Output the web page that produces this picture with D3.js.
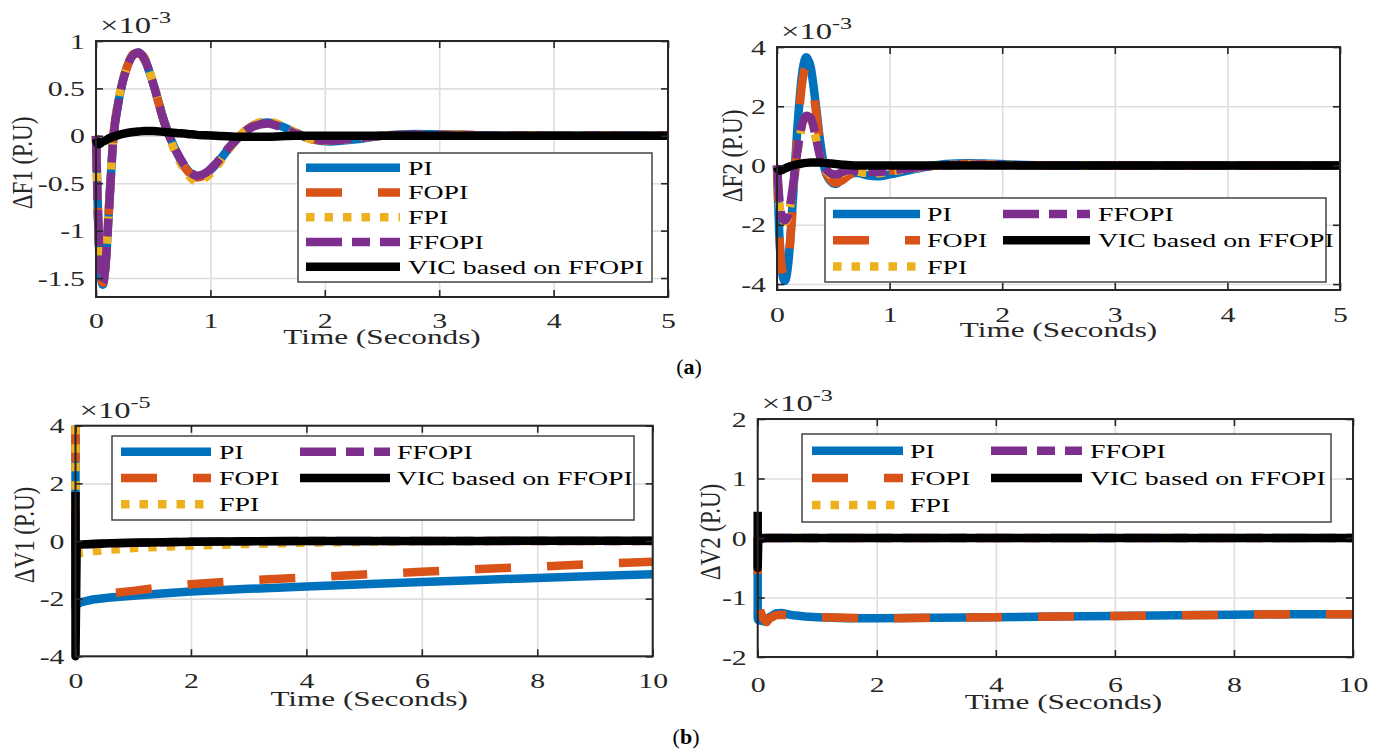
<!DOCTYPE html>
<html>
<head>
<meta charset="utf-8">
<script src="https://cdn.jsdelivr.net/npm/d3@7/dist/d3.min.js"></script>
<style>
  body { margin: 0; background: #fff; }
  text { font-family: "Liberation Serif", "Times New Roman", serif; }
</style>
</head>
<body>
<svg id="chart" width="1383" height="754"></svg>
<script>
// series shared by the four panels
var seriesNames = ["PI", "FOPI", "FPI", "FFOPI", "VIC based on FFOPI"];
var seriesColors = ["#0072BD", "#D95319", "#EDB120", "#7E2F8E", "#000000"];
var seriesDash = [null, "36,36", "8.5,10", "36,10,18,10", null];

// (a) left : dF1, x1e-3
var tF1 = [0, 0.02, 0.04, 0.06, 0.08, 0.11, 0.15, 0.2, 0.27, 0.33, 0.37, 0.42, 0.5, 0.6, 0.7, 0.8, 0.88, 0.96, 1.05, 1.15, 1.25, 1.38, 1.5, 1.62, 1.75, 1.9, 2.05, 2.25, 2.5, 2.8, 3.2, 3.7, 4.3, 5];
var f1PI    = [0, -0.95, -1.45, -1.57, -1.42, -0.85, -0.05, 0.38, 0.72, 0.86, 0.88, 0.82, 0.55, 0.14, -0.16, -0.36, -0.43, -0.40, -0.30, -0.15, -0.01, 0.11, 0.14, 0.10, 0.03, -0.04, -0.06, -0.04, 0, 0.02, 0.01, 0, 0, 0];
var f1FOPI  = [0, -0.93, -1.43, -1.55, -1.40, -0.83, -0.04, 0.39, 0.72, 0.86, 0.87, 0.81, 0.54, 0.13, -0.17, -0.37, -0.44, -0.41, -0.31, -0.15, -0.01, 0.11, 0.14, 0.10, 0.03, -0.04, -0.05, -0.03, 0, 0.01, 0.01, 0, 0, 0];
var f1FPI   = [0, -0.92, -1.42, -1.54, -1.38, -0.80, -0.02, 0.40, 0.73, 0.87, 0.88, 0.83, 0.56, 0.13, -0.19, -0.40, -0.48, -0.44, -0.33, -0.16, -0.01, 0.12, 0.15, 0.11, 0.03, -0.04, -0.05, -0.03, 0, 0.01, 0, 0, 0, 0];
var f1FFOPI = [0, -0.94, -1.44, -1.55, -1.40, -0.84, -0.05, 0.38, 0.72, 0.86, 0.88, 0.82, 0.55, 0.13, -0.16, -0.35, -0.42, -0.39, -0.29, -0.14, -0.01, 0.10, 0.13, 0.09, 0.02, -0.03, -0.05, -0.03, 0, 0.01, 0, 0, 0, 0];
var f1VIC   = [-0.03, -0.09, -0.08, -0.06, -0.05, -0.03, -0.01, 0.01, 0.03, 0.04, 0.045, 0.05, 0.05, 0.04, 0.03, 0.02, 0.01, 0.005, 0, -0.005, -0.01, -0.01, -0.01, -0.005, 0, 0, 0, 0, 0, 0, 0, 0, 0, 0];

// (a) right : dF2, x1e-3
var tF2 = [0, 0.02, 0.045, 0.07, 0.1, 0.14, 0.18, 0.22, 0.26, 0.3, 0.34, 0.38, 0.42, 0.47, 0.52, 0.58, 0.65, 0.72, 0.8, 0.9, 1.0, 1.15, 1.3, 1.5, 1.7, 1.9, 2.2, 2.6, 3.2, 4, 5];
var f2PI    = [0, -2.3, -3.6, -3.9, -3.3, -1.2, 1.2, 3.0, 3.65, 3.3, 2.2, 0.9, -0.05, -0.5, -0.62, -0.45, -0.25, -0.25, -0.33, -0.36, -0.3, -0.18, -0.06, 0.05, 0.08, 0.06, 0.02, 0, 0, 0, 0];
var f2FOPI  = [0, -2.2, -3.5, -3.8, -3.3, -1.4, 0.9, 2.7, 3.3, 3.0, 2.0, 0.8, -0.05, -0.45, -0.58, -0.5, -0.3, -0.22, -0.22, -0.22, -0.18, -0.1, -0.03, 0.03, 0.05, 0.04, 0.01, 0, 0, 0, 0];
var f2FPI   = [0, -1.2, -1.8, -1.9, -1.7, -0.8, 0.4, 1.3, 1.6, 1.55, 1.0, 0.35, -0.05, -0.3, -0.38, -0.25, -0.15, -0.2, -0.25, -0.26, -0.2, -0.12, -0.05, 0.02, 0.04, 0.03, 0.01, 0, 0, 0, 0];
var f2FFOPI = [0, -1.1, -1.75, -1.85, -1.65, -0.75, 0.45, 1.35, 1.68, 1.6, 1.05, 0.35, -0.02, -0.25, -0.3, -0.22, -0.15, -0.17, -0.2, -0.22, -0.18, -0.1, -0.04, 0.01, 0.03, 0.02, 0.01, 0, 0, 0, 0];
var f2VIC   = [-0.05, -0.17, -0.15, -0.1, -0.05, 0, 0.04, 0.07, 0.09, 0.1, 0.1, 0.1, 0.09, 0.07, 0.05, 0.03, 0.01, 0, 0, 0, 0, 0, 0, 0, 0, 0, 0, 0, 0, 0, 0];

// (b) left : dV1, x1e-5  (two samples at t=0 give the start spike)
var tV1 = [0, 0, 0.02, 0.1, 0.3, 0.6, 1, 1.5, 2, 3, 4, 5, 6, 7, 8, 9, 10];
var v1PI    = [4, -2.3, -2.2, -2.12, -2.03, -1.96, -1.9, -1.82, -1.75, -1.66, -1.58, -1.5, -1.42, -1.35, -1.28, -1.21, -1.15];
var v1FOPI  = [4, -2.05, -2.0, -1.97, -1.9, -1.82, -1.73, -1.6, -1.5, -1.36, -1.27, -1.16, -1.07, -0.97, -0.89, -0.8, -0.72];
var v1FPI   = [4, -0.5, -0.45, -0.41, -0.36, -0.3, -0.24, -0.2, -0.16, -0.1, -0.06, -0.03, 0, 0, 0, 0, 0];
var v1FFOPI = [1.0, -0.2, -0.15, -0.12, -0.1, -0.08, -0.06, -0.04, -0.03, -0.01, 0, 0, 0, 0, 0, 0, 0];
var v1VIC   = [1.7, -4, -0.15, -0.12, -0.1, -0.08, -0.06, -0.04, -0.03, -0.01, 0, 0, 0, 0, 0.01, 0.01, 0.01];

// (b) right : dV2, x1e-3
var tV2 = [0, 0, 0.01, 0.05, 0.1, 0.15, 0.2, 0.3, 0.4, 0.6, 0.8, 1, 1.5, 2, 3, 4, 5, 6, 7, 8, 9, 10];
var v2PI    = [0, -1.35, -1.38, -1.39, -1.4, -1.41, -1.33, -1.27, -1.26, -1.3, -1.32, -1.33, -1.35, -1.35, -1.34, -1.33, -1.32, -1.31, -1.3, -1.29, -1.28, -1.28];
var v2FOPI  = [0, -1.0, -1.1, -1.25, -1.36, -1.41, -1.35, -1.3, -1.29, -1.31, -1.32, -1.33, -1.34, -1.35, -1.34, -1.33, -1.32, -1.31, -1.3, -1.29, -1.28, -1.28];
var v2FPI   = [0, -0.05, -0.03, -0.02, -0.01, 0, 0, 0, 0, 0, 0, 0, 0, 0, 0, 0, 0, 0, 0, 0, 0, 0];
var v2FFOPI = [0, -0.04, -0.03, -0.02, -0.01, 0, 0, 0, 0, 0, 0, 0, 0, 0, 0, 0, 0, 0, 0, 0, 0, 0];
var v2VIC   = [0.44, -0.5, 0, 0, 0, 0, 0, 0, 0, 0, 0, 0, 0, 0, 0, 0, 0, 0, 0, 0, 0, 0];

var xTicks5 = [0, 1, 2, 3, 4, 5];
var xTicks10 = [0, 2, 4, 6, 8, 10];
var yTicksF1 = [-1.5, -1, -0.5, 0, 0.5, 1];
var yTicksF2 = [-4, -2, 0, 2, 4];
var yTicksV1 = [-4, -2, 0, 2, 4];
var yTicksV2 = [-2, -1, 0, 1, 2];

var SX = 1.42;   // text in the figure is stretched sideways
var LINE_W = 8.5;

var svg = d3.select("#chart");

function stext(g, x, y, str, size, anchor) {
  return g.append("text")
    .attr("transform", "translate(" + x + "," + y + ") scale(" + SX + ",1)")
    .attr("text-anchor", anchor)
    .style("font-size", size + "px")
    .attr("fill", "#262626")
    .text(str);
}

function drawPanel(p) {
  var x = d3.scaleLinear().domain(p.xDomain).range([p.left, p.right]);
  var y = d3.scaleLinear().domain(p.yDomain).range([p.bottom, p.top]);
  var g = svg.append("g");
  var h = p.bottom - p.top, w = p.right - p.left;

  // grid
  var gx = g.append("g").attr("transform", "translate(0," + p.bottom + ")")
    .call(d3.axisBottom(x).tickValues(p.xTicks).tickSize(-h).tickFormat(""));
  var gy = g.append("g").attr("transform", "translate(" + p.left + ",0)")
    .call(d3.axisLeft(y).tickValues(p.yTicks).tickSize(-w).tickFormat(""));
  [gx, gy].forEach(function(a) {
    a.select(".domain").remove();
    a.selectAll("line").attr("stroke", "#dedede").attr("stroke-width", 1.6);
  });

  // curves
  p.series.forEach(function(vals, i) {
    var pts = p.t.map(function(t, k) { return [t, vals[k]]; });
    var line = d3.line().x(function(d) { return x(d[0]); }).y(function(d) { return y(d[1]); }).curve(p.curve);
    g.append("path").datum(pts)
      .attr("d", line)
      .attr("fill", "none")
      .attr("stroke", seriesColors[i])
      .attr("stroke-width", LINE_W)
      .attr("stroke-linejoin", "round")
      .attr("stroke-dasharray", seriesDash[i]);
  });

  // inward ticks on all four sides
  var tb = g.append("g").attr("transform", "translate(0," + p.bottom + ")")
    .call(d3.axisBottom(x).tickValues(p.xTicks).tickSizeInner(-7).tickSizeOuter(0).tickFormat(function(d) { return String(d); }));
  tb.selectAll("text").attr("y", p.xTickDy).attr("dy", null)
    .attr("transform", "scale(" + SX + ",1)").style("font-size", "21px").attr("fill", "#262626");
  var tt = g.append("g").attr("transform", "translate(0," + p.top + ")")
    .call(d3.axisTop(x).tickValues(p.xTicks).tickSizeInner(-7).tickSizeOuter(0).tickFormat(""));
  var tl = g.append("g").attr("transform", "translate(" + p.left + ",0)")
    .call(d3.axisLeft(y).tickValues(p.yTicks).tickSizeInner(-7).tickSizeOuter(0).tickFormat(function(d) { return String(d); }));
  tl.selectAll("text").attr("x", -11 / SX).attr("dy", null).attr("y", 7)
    .attr("transform", "scale(" + SX + ",1)").style("font-size", "21px").attr("fill", "#262626");
  var tr = g.append("g").attr("transform", "translate(" + p.right + ",0)")
    .call(d3.axisRight(y).tickValues(p.yTicks).tickSizeInner(-7).tickSizeOuter(0).tickFormat(""));
  [tb, tt, tl, tr].forEach(function(a) {
    a.attr("font-family", null).attr("font-size", null);
    a.select(".domain").remove();
    a.selectAll("line").attr("stroke", "#262626").attr("stroke-width", 1.6);
  });

  // box
  g.append("rect").attr("x", p.left).attr("y", p.top).attr("width", w).attr("height", h)
    .attr("fill", "none").attr("stroke", "#262626").attr("stroke-width", 2);

  // labels
  stext(g, (p.left + p.right) / 2 + p.xLabelDx, p.bottom + p.xLabelDy, "Time (Seconds)", 22, "middle");
  g.append("text")
    .attr("transform", "translate(" + (p.yLabelX + 7) + "," + p.yLabelY + ") scale(1.25,1) rotate(-90)")
    .attr("text-anchor", "middle").style("font-size", "23px").attr("fill", "#262626")
    .text(p.yLabel);
  var ex = stext(g, p.left + 4, p.top - 8, "\u00d710", 23, "start");
  ex.append("tspan").attr("dy", -10).style("font-size", "17px").text(p.exponent);

  // legend
  var L = p.legend;
  var lg = g.append("g");
  lg.append("rect").attr("x", L.x).attr("y", L.y).attr("width", L.w).attr("height", L.h)
    .attr("fill", "#fff").attr("stroke", "#444").attr("stroke-width", 1.5);
  seriesNames.forEach(function(name, i) {
    var c = L.pos[i][0], r = L.pos[i][1];
    var ry = L.y + L.row0 + r * L.step;
    var sx = L.x + L.cols[c].sx;
    lg.append("line").attr("x1", sx).attr("x2", sx + L.len).attr("y1", ry).attr("y2", ry)
      .attr("stroke", seriesColors[i]).attr("stroke-width", LINE_W)
      .attr("stroke-dasharray", seriesDash[i]);
    stext(lg, L.x + L.cols[c].tx, ry + 7, name, 19.6, "start").attr("fill", "#000");
  });
}

var oneCol = [[0, 0], [0, 1], [0, 2], [0, 3], [0, 4]];
var twoCol = [[0, 0], [0, 1], [0, 2], [1, 0], [1, 1]];

drawPanel({
  left: 96, right: 668, top: 41, bottom: 297,
  xDomain: [0, 5], yDomain: [-1.7, 1], xTicks: xTicks5, yTicks: yTicksF1,
  t: tF1, series: [f1PI, f1FOPI, f1FPI, f1FFOPI, f1VIC], curve: d3.curveMonotoneX,
  xTickDy: 31, xLabelDy: 47, xLabelDx: 0,
  yLabel: "\u0394F1 (P.U)", yLabelX: 25, yLabelY: 163, exponent: "-3",
  legend: { x: 298, y: 153, w: 354, h: 129, row0: 14.7, step: 24.75, len: 94,
            cols: [{ sx: 8, tx: 110 }], pos: oneCol }
});

drawPanel({
  left: 777, right: 1340, top: 47, bottom: 290,
  xDomain: [0, 5], yDomain: [-4.2, 4], xTicks: xTicks5, yTicks: yTicksF2,
  t: tF2, series: [f2PI, f2FOPI, f2FPI, f2FFOPI, f2VIC], curve: d3.curveMonotoneX,
  xTickDy: 32, xLabelDy: 47, xLabelDx: 0,
  yLabel: "\u0394F2 (P.U)", yLabelX: 735, yLabelY: 156, exponent: "-3",
  legend: { x: 825, y: 198, w: 501, h: 84, row0: 16, step: 26.3, len: 87,
            cols: [{ sx: 8, tx: 102 }, { sx: 178, tx: 273 }], pos: twoCol }
});

drawPanel({
  left: 75.5, right: 652.7, top: 425.7, bottom: 656.3,
  xDomain: [0, 10], yDomain: [-4, 4], xTicks: xTicks10, yTicks: yTicksV1,
  t: tV1, series: [v1PI, v1FOPI, v1FPI, v1FFOPI, v1VIC], curve: d3.curveLinear,
  xTickDy: 32, xLabelDy: 50, xLabelDx: 5,
  yLabel: "\u0394V1 (P.U)", yLabelX: 27, yLabelY: 535, exponent: "-5",
  legend: { x: 112, y: 436, w: 522, h: 84, row0: 15.7, step: 26.3, len: 90,
            cols: [{ sx: 9, tx: 107 }, { sx: 188, tx: 285 }], pos: twoCol }
});

drawPanel({
  left: 757.7, right: 1353, top: 419, bottom: 657,
  xDomain: [0, 10], yDomain: [-2, 2], xTicks: xTicks10, yTicks: yTicksV2,
  t: tV2, series: [v2PI, v2FOPI, v2FPI, v2FFOPI, v2VIC], curve: d3.curveLinear,
  xTickDy: 35, xLabelDy: 52, xLabelDx: 8,
  yLabel: "\u0394V2 (P.U)", yLabelX: 713, yLabelY: 532, exponent: "-3",
  legend: { x: 802, y: 434, w: 529, h: 88, row0: 16.7, step: 27.2, len: 91,
            cols: [{ sx: 10, tx: 108 }, { sx: 189, tx: 288 }], pos: twoCol }
});

// sub-figure captions
function caption(x, y, letter) {
  var t = svg.append("text").attr("x", x).attr("y", y).attr("text-anchor", "middle")
    .style("font-size", "22px").attr("fill", "#000");
  t.append("tspan").text("(");
  t.append("tspan").attr("font-weight", "bold").text(letter);
  t.append("tspan").text(")");
}
caption(689, 374, "a");
caption(686, 744, "b");
</script>
</body>
</html>
